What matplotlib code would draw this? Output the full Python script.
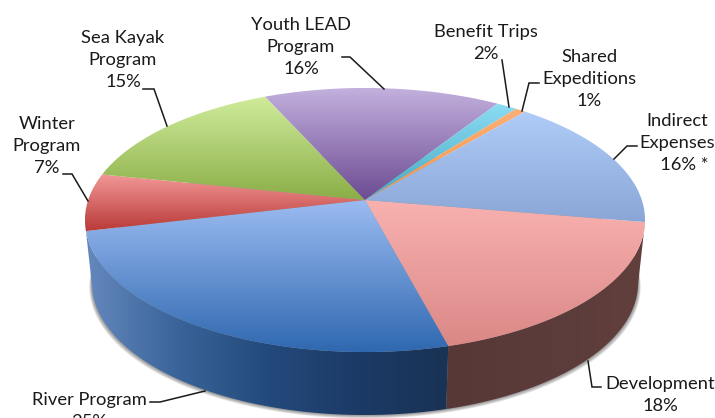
import numpy as np
import matplotlib
matplotlib.use('Agg')
import matplotlib.pyplot as plt
from matplotlib.colors import LinearSegmentedColormap
from matplotlib.patches import Polygon

names = ['Development\n18%', 'River Program\n25%', 'Winter\nProgram\n7%', 'Sea Kayak\nProgram\n15%',
         'Youth LEAD\nProgram\n16%', 'Benefit Trips\n2%', 'Shared\nExpeditions\n1%',
         'Indirect\nExpenses\n   16% *']
# clockwise from the right hand edge of the pie
order = ['Development', 'River', 'Winter', 'Sea', 'Youth', 'Benefit', 'Shared', 'Indirect']
share = [18.2, 25.4, 7.0, 15.0, 15.8, 1.4, 0.7, 16.5]

top_colors = [('#f9b2b0', '#da8886'), ('#9cbcf2', '#2f68b0'), ('#f29897', '#b83a38'),
              ('#d0ec9c', '#8bae47'), ('#c3b1de', '#6d4b93'), ('#8cdcf2', '#45a8c4'),
              ('#fab078', '#f79646'), ('#b0ccf8', '#89a6d6')]
side_colors = {'Development': ['#573836', '#5b3c3a', '#613f3d'],
               'River': ['#6488bd', '#3a649a', '#234a7c', '#1c3a66', '#193355']}

label_pos = [(660, 395), (89, 411), (47, 146), (123, 60), (301, 47), (486, 43), (589, 79), (677, 143)]
leaders = [[(601, 387), (592, 387), (588, 361)],
           [(150, 402), (160, 402), (205, 391)],
           [(63, 174), (72, 174), (88, 201)],
           [(143, 89), (154, 89), (167, 126)],
           [(342, 57), (350, 57), (384, 89)],
           [(502, 60), (509, 107)],
           [(539, 83), (529, 83), (522, 111)],
           [(637, 146), (627, 146), (614, 159)]]

# pie plane seen in perspective, so the centre is above the middle of the ellipse
cx, apex_y = 365, 200
k, a, c = 0.1515, 129, 276.8
depth, side_scale = 63, 0.975
start = 350.4


def project(deg):
    t = np.radians(deg)
    w = 1 + k * np.sin(t)
    return cx + c * np.cos(t) / w, apex_y - a * np.sin(t) / w


def lower(xs, ys):
    return cx + (xs - cx) * side_scale, ys + depth


def fill_gradient(ax, verts, stops, horizontal=False, z=2):
    verts = np.asarray(verts)
    x0, y0 = verts.min(axis=0)
    x1, y1 = verts.max(axis=0)
    cmap = LinearSegmentedColormap.from_list('g', stops)
    g = np.linspace(0, 1, 256)
    g = g[None, :] if horizontal else g[:, None]
    im = ax.imshow(g, cmap=cmap, extent=(x0, x1, y1, y0), aspect='auto',
                   origin='upper', zorder=z, interpolation='bilinear')
    clip = Polygon(verts, closed=True, transform=ax.transData, fc='none', ec='none')
    ax.add_patch(clip)
    im.set_clip_path(clip)


fig = plt.figure(figsize=(7.15, 4.18), dpi=100)
ax = fig.add_axes([0, 0, 1, 1])
plt.rcParams['font.family'] = ['Lato', 'DejaVu Sans']

# soft shadow under the pie
th = np.linspace(0, 360, 361)
sx, sy = lower(*project(th))
for off in [5, 4, 3, 2, 1]:
    ax.add_patch(Polygon(np.c_[cx + (sx - cx) * (1 + off * 0.002), sy + off * 0.7], closed=True,
                         fc='black', ec='none', alpha=0.09, zorder=1))

# side of the pie, only what faces the viewer
ends = start - np.cumsum([0] + share) * 3.6
for i, name in enumerate(order):
    if name not in side_colors:
        continue
    hi = ends[i]
    lo = max(ends[i + 1], 189)
    th = np.linspace(lo, hi, 120)
    tx, ty = project(th)
    bx, by = lower(tx, ty)
    verts = np.r_[np.c_[tx, ty], np.c_[bx, by][::-1]]
    fill_gradient(ax, verts, side_colors[name], horizontal=True, z=2)

# top faces
for i, name in enumerate(order):
    th = np.linspace(ends[i + 1], ends[i], 120)
    tx, ty = project(th)
    verts = np.r_[[[cx, apex_y]], np.c_[tx, ty]]
    fill_gradient(ax, verts, top_colors[i], z=3)

for path in leaders:
    ax.plot(*zip(*path), color='#1a1a1a', lw=1.1, zorder=4, solid_joinstyle='miter')

for name, (x, y) in zip(names, label_pos):
    ax.text(x, y, name, ha='center', va='center', fontsize=13.2, color='#1a1a1a',
            linespacing=1.46, multialignment='center', zorder=5, clip_on=False)

ax.set_xlim(0, 715)
ax.set_ylim(418, 0)
ax.axis('off')
fig.savefig('out.png', dpi=100)
